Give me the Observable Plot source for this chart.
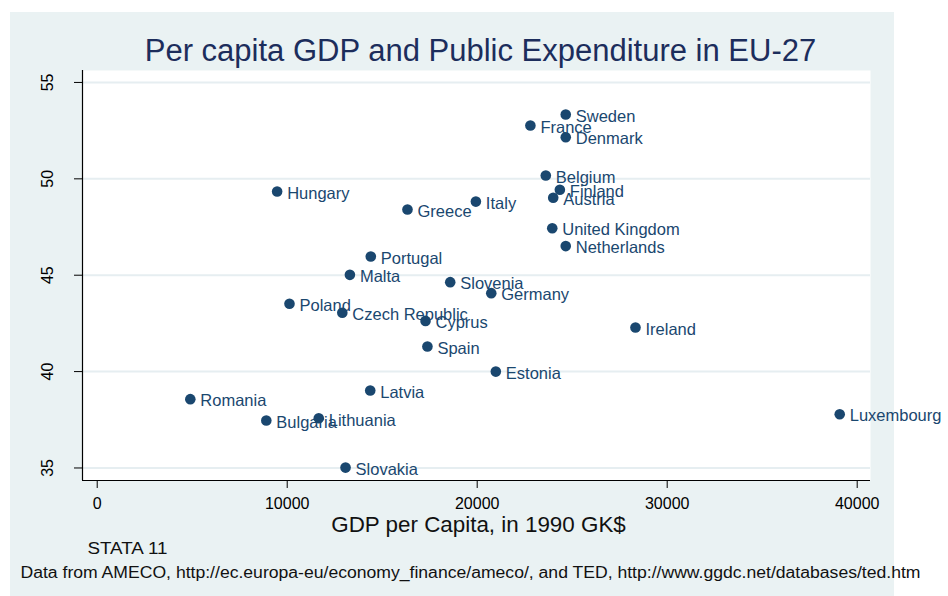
<!DOCTYPE html>
<html>
<head>
<meta charset="utf-8">
<script src="https://cdn.jsdelivr.net/npm/d3@7"></script>
<script src="https://cdn.jsdelivr.net/npm/@observablehq/plot@0.6"></script>
<style>
  html, body { margin: 0; padding: 0; background: #ffffff; }
  #wrap { position: relative; width: 948px; height: 596px; overflow: hidden; }
  #bg { position: absolute; left: 10px; top: 12px; width: 884px; height: 590px; background: #eaf2f3; }
  #chart { position: absolute; left: 0; top: 0; }
</style>
</head>
<body>
<div id="wrap"><div id="bg"></div><div id="chart"></div></div>
<script>
const titleText = "Per capita GDP and Public Expenditure in EU-27";
const xTitle = "GDP per Capita, in 1990 GK$";
const note1 = "STATA 11";
const note2 = "Data from AMECO, http://ec.europa-eu/economy_finance/ameco/, and TED, http://www.ggdc.net/databases/ted.htm";

const countries = ["Sweden","France","Denmark","Belgium","Finland","Austria","Hungary","Greece","Italy","United Kingdom","Netherlands","Portugal","Malta","Slovenia","Germany","Poland","Czech Republic","Cyprus","Ireland","Spain","Estonia","Latvia","Romania","Lithuania","Bulgaria","Luxembourg","Slovakia"];
const gdp = [24660, 22800, 24660, 23610, 24350, 24000, 9470, 16330, 19930, 23950, 24660, 14400, 13300, 18580, 20740, 10120, 12900, 17280, 28330, 17380, 20980, 14370, 4900, 11660, 8900, 39080, 13070];
const expenditure = [53.34, 52.77, 52.16, 50.17, 49.43, 49.02, 49.34, 48.41, 48.82, 47.44, 46.51, 45.97, 45.02, 44.64, 44.07, 43.52, 43.05, 42.63, 42.29, 41.30, 40.00, 39.02, 38.57, 37.58, 37.46, 37.79, 35.02];

const xTicks = [0, 10000, 20000, 30000, 40000];
const yTicks = [35, 40, 45, 50, 55];
const xDomain = [-774, 40700];
const yDomain = [34.35, 55.62];

const data = countries.map((c, i) => ({country: c, gdp: gdp[i], exp: expenditure[i]}));

const navy = "#1a476f";
const font = "'Liberation Sans', Arial, Helvetica, sans-serif";

const chart = Plot.plot({
  width: 948,
  height: 596,
  marginLeft: 82,
  marginRight: 78,
  marginTop: 70,
  marginBottom: 116,
  style: {background: "transparent", fontFamily: font, overflow: "visible"},
  x: {domain: xDomain, axis: null},
  y: {domain: yDomain, axis: null},
  marks: [
    Plot.frame({fill: "white", stroke: null}),
    Plot.gridY(yTicks, {stroke: "#e6eef1", strokeOpacity: 1, strokeWidth: 2}),
    Plot.ruleX([xDomain[0]], {stroke: "#000", strokeWidth: 1.2}),
    Plot.ruleY([yDomain[0]], {stroke: "#000", strokeWidth: 1.2}),
    Plot.axisY({ticks: yTicks, tickSize: 8, stroke: "#000", tickFormat: () => "", label: null}),
    Plot.text(yTicks, {frameAnchor: "left", y: d => d, text: d => String(d), rotate: -90, textAnchor: "middle", lineAnchor: "bottom", dx: -30, fontSize: 16, fill: "#000"}),
    Plot.axisX({ticks: xTicks, tickSize: 8, tickPadding: 9, fontSize: 16, fill: "#000", stroke: "#000", tickFormat: d3.format("d"), label: null}),
    Plot.dot(data, {x: "gdp", y: "exp", r: 5.3, fill: navy, stroke: null}),
    Plot.text(data, {x: "gdp", y: "exp", text: "country", textAnchor: "start", dx: 10, dy: 2, fill: navy, fontSize: 16.5}),
    Plot.text([titleText], {frameAnchor: "top", dx: 4, dy: -10, lineAnchor: "bottom", fontSize: 31, fill: "#1c2d5c"}),
    Plot.text([xTitle], {frameAnchor: "bottom", dx: 2, dy: 51, lineAnchor: "bottom", fontSize: 22.4, fill: "#111"}),
    Plot.text([note1], {frameAnchor: "bottom-left", textAnchor: "start", dx: 5, dy: 73, lineAnchor: "bottom", fontSize: 16, fill: "#111"}),
    Plot.text([note2], {frameAnchor: "bottom-left", textAnchor: "start", dx: -62, dy: 97, lineAnchor: "bottom", fontSize: 16, fill: "#111"})
  ]
});
// stretch the two notes to the widths they take in the reference
chart.querySelectorAll("text").forEach(t => {
  if (t.textContent === note1) { t.setAttribute("textLength", 80); t.setAttribute("lengthAdjust", "spacingAndGlyphs"); }
  if (t.textContent === note2) { t.setAttribute("textLength", 900); t.setAttribute("lengthAdjust", "spacingAndGlyphs"); }
});
document.getElementById("chart").appendChild(chart);
</script>
</body>
</html>
